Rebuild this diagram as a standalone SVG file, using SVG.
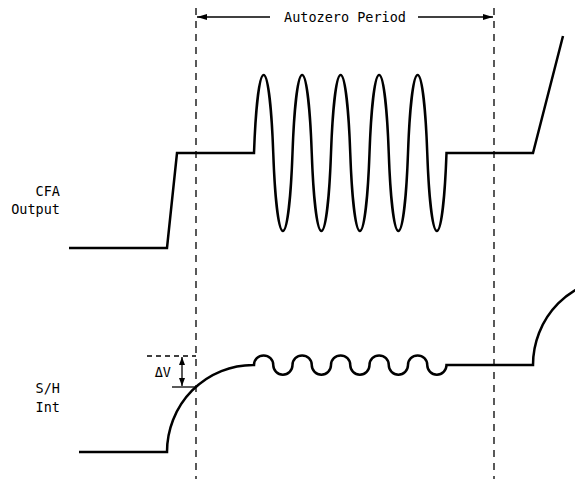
<svg xmlns="http://www.w3.org/2000/svg" width="575" height="479" viewBox="0 0 575 479">
<defs>
<style>
.wave{fill:none;stroke:#000;stroke-width:2.5;stroke-linejoin:miter}
.guide{fill:none;stroke:#000;stroke-width:1.3;stroke-dasharray:7,6}
.thin{fill:none;stroke:#000;stroke-width:1.3}
.lbl{font-family:"DejaVu Sans Mono","Liberation Mono",monospace;font-size:13.5px;fill:#000}
</style>
<marker id="ah" viewBox="0 0 10 6" refX="10" refY="3" markerWidth="10" markerHeight="6" markerUnits="userSpaceOnUse" orient="auto">
<path d="M0,0 L10,3 L0,6 Z" fill="#000"/>
</marker>
<marker id="ahs" viewBox="0 0 8 6" refX="8" refY="3" markerWidth="8" markerHeight="6" markerUnits="userSpaceOnUse" orient="auto-start-reverse">
<path d="M0,0 L8,3 L0,6 Z" fill="#000"/>
</marker>
</defs>
<g id="connectors">
<line class="guide" x1="196" y1="8" x2="196" y2="479"/>
<line class="guide" x1="494" y1="8" x2="494" y2="479"/>
<line class="thin" x1="270" y1="17" x2="197" y2="17" marker-end="url(#ah)"/>
<line class="thin" x1="418" y1="17" x2="493" y2="17" marker-end="url(#ah)"/>
<line class="thin" x1="147" y1="356" x2="196" y2="356" style="stroke-dasharray:5,4"/>
<line class="thin" x1="172" y1="387" x2="197" y2="387"/>
<line class="thin" x1="182" y1="357" x2="182" y2="386" marker-start="url(#ahs)" marker-end="url(#ahs)"/>
</g>
<g id="autozero-label">
<text class="lbl" x="345" y="22" text-anchor="middle">Autozero Period</text>
</g>
<g id="cfa-output">
<text class="lbl" x="60" y="196" text-anchor="end">CFA</text>
<text class="lbl" x="60" y="214" text-anchor="end">Output</text>
<path class="wave" d="M69,248 L167,248 L177,153 L254,153
c1.5,-42 5.2,-78 9.625,-78 c4.425,0 8.125,36 9.625,78 c1.5,42 5.2,78 9.625,78 c4.425,0 8.125,-36 9.625,-78
c1.5,-42 5.2,-78 9.625,-78 c4.425,0 8.125,36 9.625,78 c1.5,42 5.2,78 9.625,78 c4.425,0 8.125,-36 9.625,-78
c1.5,-42 5.2,-78 9.625,-78 c4.425,0 8.125,36 9.625,78 c1.5,42 5.2,78 9.625,78 c4.425,0 8.125,-36 9.625,-78
c1.5,-42 5.2,-78 9.625,-78 c4.425,0 8.125,36 9.625,78 c1.5,42 5.2,78 9.625,78 c4.425,0 8.125,-36 9.625,-78
c1.5,-42 5.2,-78 9.625,-78 c4.425,0 8.125,36 9.625,78 c1.5,42 5.2,78 9.625,78 c4.425,0 8.125,-36 9.625,-78
L533,153 L563,36"/>
</g>
<g id="sh-int">
<text class="lbl" x="60" y="393" text-anchor="end">S/H</text>
<text class="lbl" x="60" y="412" text-anchor="end">Int</text>
<text class="lbl" x="171" y="377" text-anchor="end">ΔV</text>
<path class="wave" d="M79,452 L167,452 A86,87 0 0 1 253,365 L254,365
a9.625,9.625 0 0 1 19.25,0 a9.625,9.625 0 0 0 19.25,0
a9.625,9.625 0 0 1 19.25,0 a9.625,9.625 0 0 0 19.25,0
a9.625,9.625 0 0 1 19.25,0 a9.625,9.625 0 0 0 19.25,0
a9.625,9.625 0 0 1 19.25,0 a9.625,9.625 0 0 0 19.25,0
a9.625,9.625 0 0 1 19.25,0 a9.625,9.625 0 0 0 19.25,0
L533,365 A86,87 0 0 1 619,278"/>
</g>
</svg>
